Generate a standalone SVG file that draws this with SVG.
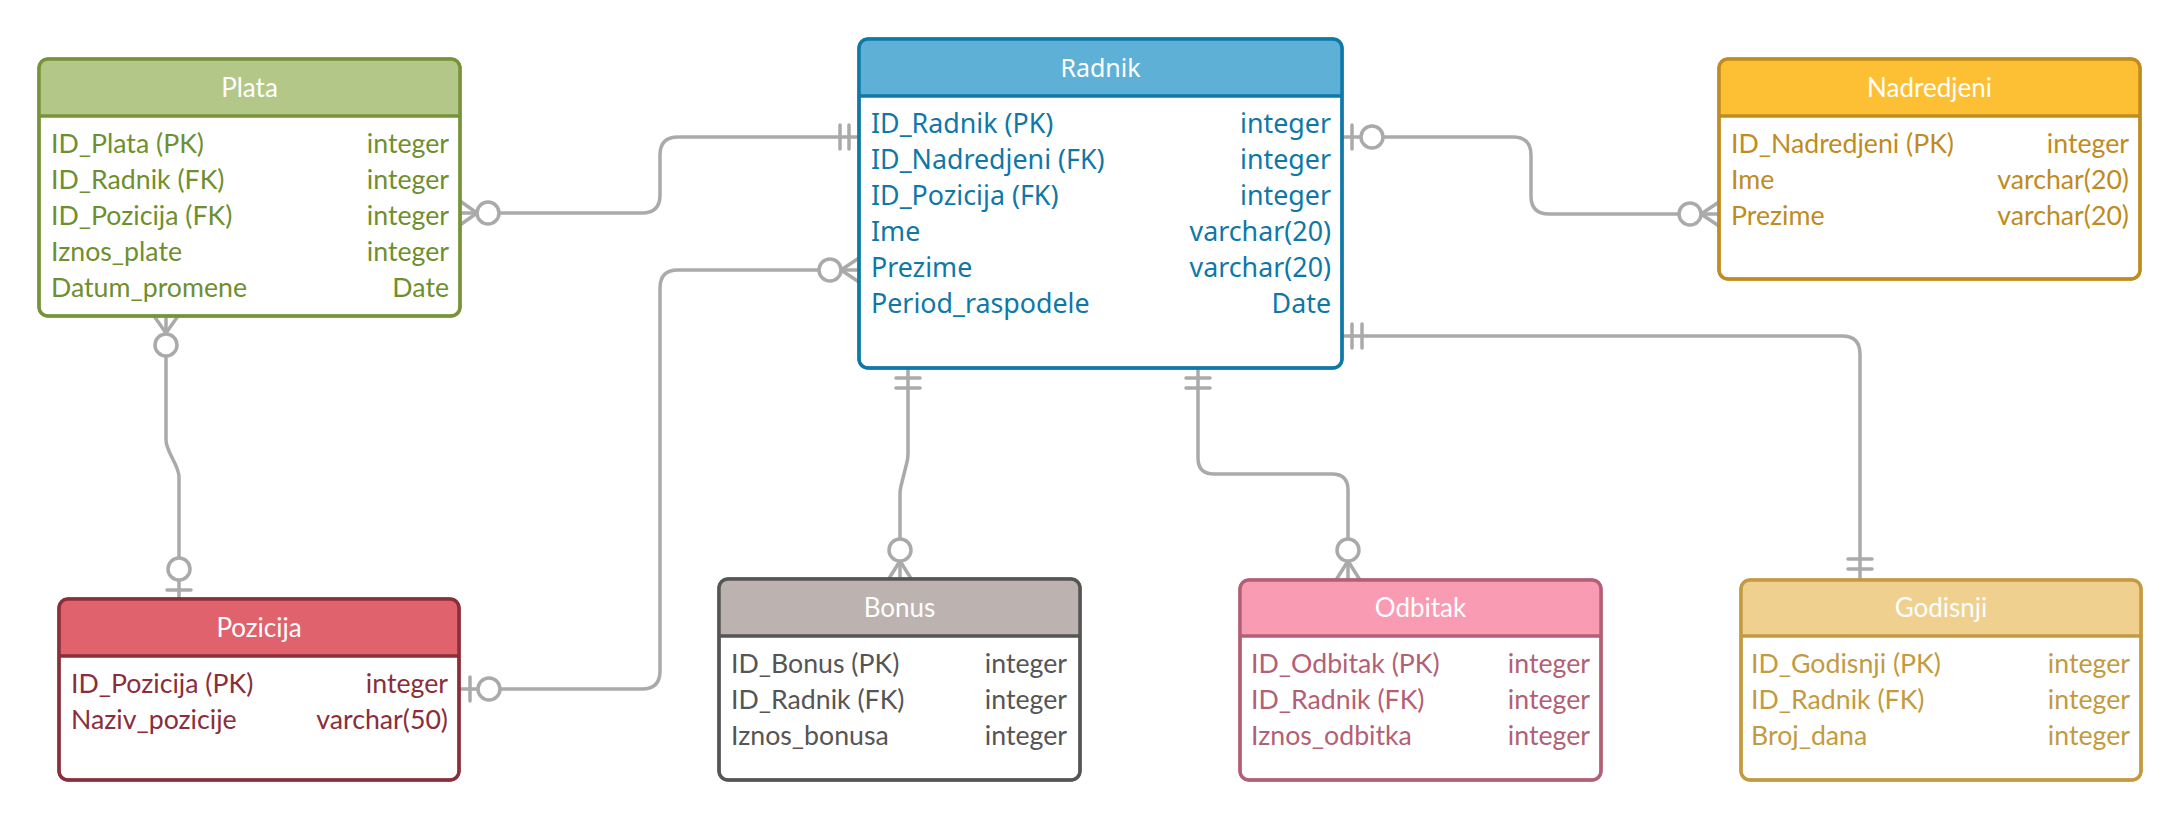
<svg xmlns="http://www.w3.org/2000/svg" width="2180" height="820" viewBox="0 0 2180 820">
<style>
.box{fill:#ffffff;stroke-width:3}
.frame{fill:none;stroke-width:3.5}
.sep{stroke-width:3.5}
.title{font-family:Lato,"Noto Sans",sans-serif;font-size:26px;fill:#ffffff;text-anchor:middle}
.row{font-family:Lato,"Noto Sans",sans-serif;font-size:26.7px}
.r{text-anchor:end}
.rad{font-family:"Noto Sans","Open Sans",sans-serif;font-size:26.8px}
.radt{font-family:"Noto Sans","Open Sans",sans-serif;font-size:25px;fill:#ffffff;text-anchor:middle}
.conn{fill:none;stroke:#aaaaaa;stroke-width:3.5;stroke-linejoin:round;stroke-linecap:round}
.circ{fill:#ffffff;stroke:#aaaaaa;stroke-width:3.5}
</style>
<rect width="2180" height="820" fill="#ffffff"/>

<g id="connectors">
  <!-- Plata - Radnik -->
  <path class="conn" d="M460 213 H642 Q660 213 660 195 V155 Q660 137 678 137 H859"/>
  <path class="conn" d="M460 201 L477 213 L460 225"/>
  <circle class="circ" cx="488" cy="213" r="11"/>
  <path class="conn" d="M840 125 V149 M849 125 V149"/>

  <!-- Radnik - Pozicija -->
  <path class="conn" d="M859 270 H678 Q660 270 660 288 V671 Q660 689 642 689 H459"/>
  <path class="conn" d="M859 258 L841 270 L859 282"/>
  <circle class="circ" cx="830" cy="270" r="11"/>
  <path class="conn" d="M470 677 V701"/>
  <circle class="circ" cx="489" cy="689" r="11"/>

  <!-- Radnik - Nadredjeni -->
  <path class="conn" d="M1342 137 H1513 Q1531 137 1531 155 V196 Q1531 214 1549 214 H1719"/>
  <path class="conn" d="M1352 125 V149"/>
  <circle class="circ" cx="1372" cy="137" r="11"/>
  <path class="conn" d="M1719 202 L1701 214 L1719 226"/>
  <circle class="circ" cx="1690" cy="214" r="11"/>

  <!-- Radnik - Godisnji -->
  <path class="conn" d="M1342 336 H1842 Q1860 336 1860 354 V580"/>
  <path class="conn" d="M1352 324 V348 M1362 324 V348"/>
  <path class="conn" d="M1848 559 H1872 M1848 569 H1872"/>

  <!-- Radnik - Bonus -->
  <path class="conn" d="M908 368 V453 Q908 458 907 462 L901 486 Q900 490 900 495 V580"/>
  <path class="conn" d="M896 378 H920 M896 388 H920"/>
  <path class="conn" d="M888 580 L900 561 L912 580"/>
  <circle class="circ" cx="900" cy="550" r="11"/>

  <!-- Radnik - Odbitak -->
  <path class="conn" d="M1198 368 V458 Q1198 474 1214 474 H1332 Q1348 474 1348 490 V580"/>
  <path class="conn" d="M1186 378 H1210 M1186 388 H1210"/>
  <path class="conn" d="M1336 580 L1348 561 L1360 580"/>
  <circle class="circ" cx="1348" cy="550" r="11"/>

  <!-- Plata - Pozicija -->
  <path class="conn" d="M166 316 V440 C166 452 179 465 179 477 V599"/>
  <path class="conn" d="M154 316 L166 333 L178 316"/>
  <circle class="circ" cx="166" cy="345" r="11"/>
  <circle class="circ" cx="179" cy="569" r="11"/>
  <path class="conn" d="M167 590 H191"/>
</g>

<g id="plata">
  <rect class="box" x="39" y="59" width="421" height="257" rx="9" stroke="#77933a"/>
  <path d="M39 116 V68 Q39 59 48 59 H451 Q460 59 460 68 V116 Z" fill="#b2c788"/>
  <line class="sep" x1="39" y1="116" x2="460" y2="116" stroke="#77933a"/>
  <rect class="frame" x="39" y="59" width="421" height="257" rx="9" stroke="#77933a"/>
  <text class="title" x="249.5" y="97">Plata</text>
  <g class="row" fill="#6f8f2e">
    <text x="51" y="153">ID_Plata (PK)</text><text class="r" x="449" y="153">integer</text>
    <text x="51" y="189">ID_Radnik (FK)</text><text class="r" x="449" y="189">integer</text>
    <text x="51" y="225">ID_Pozicija (FK)</text><text class="r" x="449" y="225">integer</text>
    <text x="51" y="261">Iznos_plate</text><text class="r" x="449" y="261">integer</text>
    <text x="51" y="297">Datum_promene</text><text class="r" x="449" y="297">Date</text>
  </g>
</g>

<g id="radnik">
  <rect class="box" x="859" y="39" width="483" height="329" rx="9" stroke="#0e78a8"/>
  <path d="M859 96 V48 Q859 39 868 39 H1333 Q1342 39 1342 48 V96 Z" fill="#5eb0d6"/>
  <line class="sep" x1="859" y1="96" x2="1342" y2="96" stroke="#0e78a8"/>
  <rect class="frame" x="859" y="39" width="483" height="329" rx="9" stroke="#0e78a8"/>
  <text class="radt" x="1100.5" y="77">Radnik</text>
  <g class="rad" fill="#0f78a6">
    <text x="871" y="133">ID_Radnik (PK)</text><text class="r" x="1331" y="133">integer</text>
    <text x="871" y="169">ID_Nadredjeni (FK)</text><text class="r" x="1331" y="169">integer</text>
    <text x="871" y="205">ID_Pozicija (FK)</text><text class="r" x="1331" y="205">integer</text>
    <text x="871" y="241">Ime</text><text class="r" x="1331" y="241">varchar(20)</text>
    <text x="871" y="277">Prezime</text><text class="r" x="1331" y="277">varchar(20)</text>
    <text x="871" y="313">Period_raspodele</text><text class="r" x="1331" y="313">Date</text>
  </g>
</g>

<g id="nadredjeni">
  <rect class="box" x="1719" y="59" width="421" height="220" rx="9" stroke="#c08b20"/>
  <path d="M1719 116 V68 Q1719 59 1728 59 H2131 Q2140 59 2140 68 V116 Z" fill="#fdbf33"/>
  <line class="sep" x1="1719" y1="116" x2="2140" y2="116" stroke="#c08b20"/>
  <rect class="frame" x="1719" y="59" width="421" height="220" rx="9" stroke="#c08b20"/>
  <text class="title" x="1929.5" y="97">Nadredjeni</text>
  <g class="row" fill="#c08b20">
    <text x="1731" y="153">ID_Nadredjeni (PK)</text><text class="r" x="2129" y="153">integer</text>
    <text x="1731" y="189">Ime</text><text class="r" x="2129" y="189">varchar(20)</text>
    <text x="1731" y="225">Prezime</text><text class="r" x="2129" y="225">varchar(20)</text>
  </g>
</g>

<g id="pozicija">
  <rect class="box" x="59" y="599" width="400" height="181" rx="9" stroke="#8a2e39"/>
  <path d="M59 656 V608 Q59 599 68 599 H450 Q459 599 459 608 V656 Z" fill="#e0626d"/>
  <line class="sep" x1="59" y1="656" x2="459" y2="656" stroke="#8a2e39"/>
  <rect class="frame" x="59" y="599" width="400" height="181" rx="9" stroke="#8a2e39"/>
  <text class="title" x="259" y="637">Pozicija</text>
  <g class="row" fill="#8a2e39">
    <text x="71" y="693">ID_Pozicija (PK)</text><text class="r" x="448" y="693">integer</text>
    <text x="71" y="729">Naziv_pozicije</text><text class="r" x="448" y="729">varchar(50)</text>
  </g>
</g>

<g id="bonus">
  <rect class="box" x="719" y="579" width="361" height="201" rx="9" stroke="#555555"/>
  <path d="M719 636 V588 Q719 579 728 579 H1071 Q1080 579 1080 588 V636 Z" fill="#bcb2b0"/>
  <line class="sep" x1="719" y1="636" x2="1080" y2="636" stroke="#555555"/>
  <rect class="frame" x="719" y="579" width="361" height="201" rx="9" stroke="#555555"/>
  <text class="title" x="899.5" y="617">Bonus</text>
  <g class="row" fill="#555555">
    <text x="731" y="673">ID_Bonus (PK)</text><text class="r" x="1067" y="673">integer</text>
    <text x="731" y="709">ID_Radnik (FK)</text><text class="r" x="1067" y="709">integer</text>
    <text x="731" y="745">Iznos_bonusa</text><text class="r" x="1067" y="745">integer</text>
  </g>
</g>

<g id="odbitak">
  <rect class="box" x="1240" y="580" width="361" height="200" rx="9" stroke="#b35f75"/>
  <path d="M1240 636 V589 Q1240 580 1249 580 H1592 Q1601 580 1601 589 V636 Z" fill="#f99bb2"/>
  <line class="sep" x1="1240" y1="636" x2="1601" y2="636" stroke="#b35f75"/>
  <rect class="frame" x="1240" y="580" width="361" height="200" rx="9" stroke="#b35f75"/>
  <text class="title" x="1420.5" y="617">Odbitak</text>
  <g class="row" fill="#b35f75">
    <text x="1251" y="673">ID_Odbitak (PK)</text><text class="r" x="1590" y="673">integer</text>
    <text x="1251" y="709">ID_Radnik (FK)</text><text class="r" x="1590" y="709">integer</text>
    <text x="1251" y="745">Iznos_odbitka</text><text class="r" x="1590" y="745">integer</text>
  </g>
</g>

<g id="godisnji">
  <rect class="box" x="1741" y="580" width="400" height="200" rx="9" stroke="#c39a40"/>
  <path d="M1741 636 V589 Q1741 580 1750 580 H2132 Q2141 580 2141 589 V636 Z" fill="#f0d08e"/>
  <line class="sep" x1="1741" y1="636" x2="2141" y2="636" stroke="#c39a40"/>
  <rect class="frame" x="1741" y="580" width="400" height="200" rx="9" stroke="#c39a40"/>
  <text class="title" x="1941" y="617">Godisnji</text>
  <g class="row" fill="#c39a40">
    <text x="1751" y="673">ID_Godisnji (PK)</text><text class="r" x="2130" y="673">integer</text>
    <text x="1751" y="709">ID_Radnik (FK)</text><text class="r" x="2130" y="709">integer</text>
    <text x="1751" y="745">Broj_dana</text><text class="r" x="2130" y="745">integer</text>
  </g>
</g>
</svg>
